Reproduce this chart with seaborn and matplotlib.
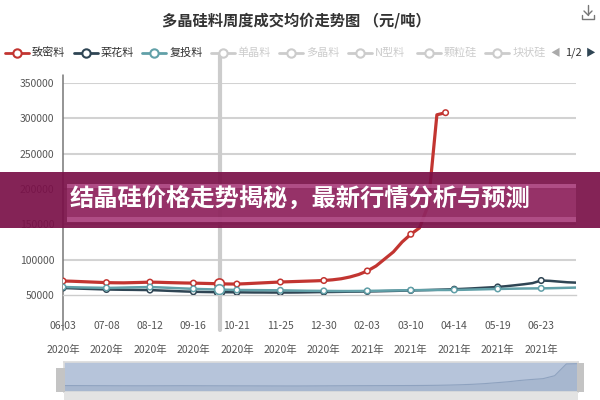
import numpy as np
import pandas as pd
import matplotlib.pyplot as plt
import seaborn as sns
from matplotlib.lines import Line2D
from matplotlib.patches import Rectangle

# chart texts
title = '多晶硅料周度成交均价走势图 （元/吨）'
banner = '结晶硅价格走势揭秘，最新行情分析与预测'

series_names = ['致密料', '菜花料', '复投料', '单晶料', '多晶料', 'N型料', '颗粒硅', '块状硅']
series_colors = ['#c23531', '#2f4554', '#61a0a8']  # only the first three are switched on

# weekly average price, yuan / ton
dense_price = [69800, 69500, 69000, 68500, 68000, 67500, 67300, 67200, 67500, 67800,
               68200, 68000, 67600, 67300, 67000, 66800, 66500, 66200, 65800, 65600,
               65500, 66000, 66600, 67200, 67800, 68400, 68800, 69200, 69600, 70000,
               70500, 71500, 73000, 75500, 79000, 84000, 91000, 101000, 111000, 125000,
               136000, 145000, 177000, 305000, 308000]
cauli_price = [59900, 59500, 59000, 58600, 58200, 57800, 57600, 57400, 57300, 57100,
               57000, 56500, 56000, 55500, 55000, 54600, 54300, 54100, 53900, 53900,
               53800, 53700, 53600, 53600, 53500, 53500, 53500, 53600, 53800, 54000,
               54200, 54300, 54500, 54700, 54800, 55000, 55200, 55500, 55800, 56100,
               56400, 56700, 57000, 57400, 57800, 58200, 58700, 59300, 60000, 60700,
               61400, 62500, 63800, 65200, 66800, 70500, 70000, 69000, 68000, 67500]
recharge_price = [61300, 61000, 60700, 60500, 60300, 60000, 60200, 60500, 60800, 61000,
                  61200, 60800, 60300, 59700, 59200, 58700, 58300, 58000, 57600, 57400,
                  57100, 57000, 56900, 56800, 56700, 56600, 56400, 56200, 56000, 55900,
                  55800, 55700, 55600, 55600, 55700, 55800, 56000, 56200, 56400, 56600,
                  56800, 56900, 57000, 57100, 57100, 57200, 57400, 57700, 58000, 58300,
                  58600, 58800, 59000, 59200, 59300, 59400, 59600, 59900, 60200, 60500]

y_ticks = [50000, 100000, 150000, 200000, 250000, 300000, 350000]
tick_dates = ['06-03', '07-08', '08-12', '09-16', '10-21', '11-25',
              '12-30', '02-03', '03-10', '04-14', '05-19', '06-23']
tick_years = ['2020年', '2020年', '2020年', '2020年', '2020年', '2020年',
              '2020年', '2021年', '2021年', '2021年', '2021年', '2021年']
hover_week = 18

sns.set_theme(style='white')
plt.rcParams['font.family'] = ['Noto Sans CJK SC', 'DejaVu Sans']


def fx(x):
    return x / 600


def fy(y):
    return 1 - y / 400


frames = []
for name, vals in zip(series_names[:3], [dense_price, cauli_price, recharge_price]):
    frames.append(pd.DataFrame({'week': np.arange(len(vals)), 'price': vals, 'series': name}))
df = pd.concat(frames, ignore_index=True)

fig = plt.figure(figsize=(6, 4), dpi=100)
ax = fig.add_axes([fx(63), fy(295), fx(576 - 63), (295 - 83) / 400])

# hover crosshair and y axis line (they run past the plot area)
ax.axvline(hover_week, ymin=-0.165, ymax=1.132, color='#cccccc', lw=3, clip_on=False, zorder=1)
ax.axvline(0, ymin=-0.165, ymax=1.04, color='#777777', lw=1.1, clip_on=False, zorder=1)

sns.lineplot(data=df, x='week', y='price', hue='series', hue_order=series_names[:3],
             palette=series_colors, estimator=None, sort=False, legend=False,
             linewidth=1.8, ax=ax)
ax.lines[-3].set_linewidth(2.3)
ax.lines[-3].set_zorder(4)


def hollow(coll):
    ec = coll.get_facecolors()
    coll.set_edgecolors(ec)
    coll.set_facecolors('white')


last = df[(df.series == series_names[0]) & (df.week == len(dense_price) - 1)]
shown = pd.concat([df[df.week % 5 == 0], last])
sns.scatterplot(data=shown, x='week', y='price', hue='series', hue_order=series_names[:3],
                palette=series_colors, s=16, linewidth=1.1, legend=False, ax=ax, zorder=5)
hollow(ax.collections[-1])

hover = df[df.week == hover_week]
sns.scatterplot(data=hover, x='week', y='price', hue='series', hue_order=series_names[:3],
                palette=series_colors, s=50, linewidth=1.2, legend=False, ax=ax, zorder=6)
hollow(ax.collections[-1])

ax.set_xlim(0, 59)
ax.set_ylim(50000, 350000)
ax.set_yticks(y_ticks)
ax.set_yticklabels([str(v) for v in y_ticks])
ax.set_xticks(range(0, 60, 5))
ax.set_xticklabels([d + '\n\n' + y for d, y in zip(tick_dates, tick_years)])
ax.set_xlabel('')
ax.set_ylabel('')
ax.grid(axis='y', color='#d2d2d2', lw=1.5)
ax.yaxis.get_gridlines()[0].set_visible(False)
ax.set_axisbelow(True)
ax.tick_params(axis='y', length=0, pad=6, labelsize=7.5, labelcolor='#555555')
ax.tick_params(axis='x', length=0, pad=19, labelsize=7.5, labelcolor='#555555')
for s in ['top', 'right', 'left']:
    ax.spines[s].set_visible(False)
ax.spines['bottom'].set_color('#cccccc')
ax.spines['bottom'].set_linewidth(1)

# title and toolbox icon
fig.text(fx(296), fy(20), title, ha='center', va='center', fontsize=11,
         fontweight='bold', color='#333333')
for xs, ys in [([588, 588], [5, 15]), ([584, 588, 592], [11, 15, 11]),
               ([582, 582, 594, 594], [15, 19, 19, 15])]:
    fig.add_artist(Line2D([fx(v) for v in xs], [fy(v) for v in ys], color='#777777', lw=1))

# legend row
for i, name in enumerate(series_names):
    cx = 17 + 68.6 * i
    on = i < len(series_colors)
    col = series_colors[i] if on else '#cccccc'
    fig.add_artist(Line2D([fx(cx - 12), fx(cx + 12)], [fy(53), fy(53)], color=col, lw=2))
    fig.add_artist(Line2D([fx(cx)], [fy(53)], marker='o', markersize=6, markerfacecolor='white',
                          markeredgecolor=col, markeredgewidth=1.5, lw=0))
    fig.text(fx(cx + 15), fy(53), name, ha='left', va='center', fontsize=8,
             color='#333333' if on else '#cccccc')
fig.text(fx(555), fy(53), '◀', ha='center', va='center', fontsize=7, color='#aaaaaa')
fig.text(fx(573), fy(53), '1/2', ha='center', va='center', fontsize=8, color='#333333')
fig.text(fx(591), fy(53), '▶', ha='center', va='center', fontsize=7, color='#2f4554')

# data zoom slider
fig.add_artist(Rectangle((fx(64), fy(400)), fx(578 - 64), 8 / 400, color='#e3e3e3', lw=0))
ax2 = fig.add_axes([fx(64), fy(392), fx(578 - 64), 30 / 400])
ax2.set_facecolor('#b6c4da')
sns.lineplot(x=np.arange(len(dense_price)), y=dense_price, color='#8ea2bf', lw=0.8, ax=ax2)
ax2.fill_between(np.arange(len(dense_price)), dense_price, color='#9aabc6', alpha=0.5, lw=0)
ax2.set_xlim(0, len(dense_price) - 1)
ax2.set_ylim(0, max(dense_price) * 1.06)
ax2.set_xticks([])
ax2.set_yticks([])
ax2.set_xlabel('')
ax2.set_ylabel('')
for s in ax2.spines.values():
    s.set_color('#dcdcdc')
fig.add_artist(Rectangle((fx(56), fy(392)), fx(9), 24 / 400, color='#c4c4c4', lw=0))
fig.add_artist(Rectangle((fx(577), fy(392)), fx(7), 29 / 400, color='#c4c4c4', lw=0))

# banner overlay
fig.add_artist(Rectangle((0, fy(228)), 1, 56 / 400, color='#7a1048', alpha=0.92, lw=0, zorder=10))
fig.add_artist(Rectangle((fx(67), fy(222)), fx(576 - 67), 38 / 400, color='#b8508a',
                         alpha=0.35, lw=0, zorder=10))
fig.add_artist(Rectangle((fx(67), fy(188)), fx(576 - 67), 4 / 400, color='#c0609a',
                         alpha=0.6, lw=0, zorder=10))
fig.add_artist(Rectangle((fx(67), fy(222)), fx(576 - 67), 5 / 400, color='#c0609a',
                         alpha=0.6, lw=0, zorder=10))
fig.text(fx(300), fy(200), banner, ha='center', va='center', fontsize=17.5,
         fontweight='bold', color='white', zorder=11)

fig.savefig('out.png', dpi=100)
